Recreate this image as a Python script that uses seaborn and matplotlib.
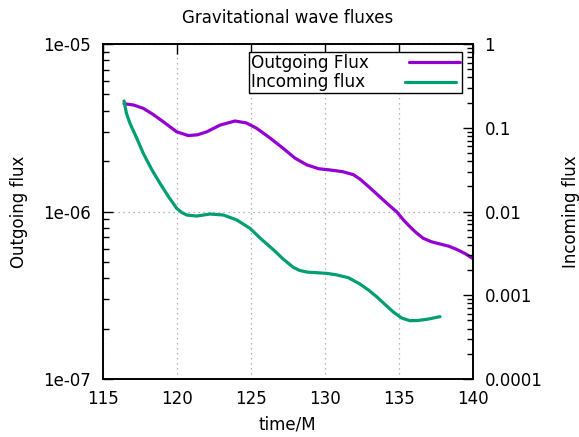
import numpy as np
import pandas as pd
import seaborn as sns
import matplotlib.pyplot as plt
from matplotlib.ticker import LogLocator, NullFormatter

# outgoing flux (left axis)
t_out = [116.44, 117.1, 117.74, 118.4, 119.1, 120.0, 120.78, 121.4, 122.03, 122.93,
         123.94, 124.7, 125.4, 126.3, 127.2, 128.0, 128.78, 129.6, 130.36, 131.2,
         131.93, 132.39, 133.0, 133.74, 134.3, 134.86, 135.3, 135.76, 136.2, 136.66,
         137.2, 137.79, 138.4, 138.92, 139.5, 140.0]
f_out = [4.4e-6, 4.32e-6, 4.13e-6, 3.8e-6, 3.43e-6, 2.99e-6, 2.84e-6, 2.87e-6, 2.99e-6, 3.28e-6,
         3.47e-6, 3.38e-6, 3.14e-6, 2.75e-6, 2.38e-6, 2.08e-6, 1.9e-6, 1.8e-6, 1.77e-6, 1.73e-6,
         1.66e-6, 1.56e-6, 1.4e-6, 1.22e-6, 1.1e-6, 9.97e-7, 8.95e-7, 8.11e-7, 7.45e-7, 6.92e-7,
         6.6e-7, 6.4e-7, 6.2e-7, 5.94e-7, 5.6e-7, 5.25e-7]

# incoming flux (right axis)
t_in = [116.44, 116.6, 116.84, 117.3, 117.74, 118.3, 118.87, 119.45, 120.0, 120.35,
        120.68, 121.35, 122.25, 123.15, 124.05, 124.95, 125.7, 126.53, 127.2, 127.88,
        128.3, 128.8, 129.46, 130.2, 130.81, 131.6, 132.39, 133.0, 133.51, 134.1,
        134.64, 135.2, 135.76, 136.3, 136.89, 137.3, 137.79]
f_in = [0.209, 0.15, 0.113, 0.075, 0.0495, 0.032, 0.0217, 0.015, 0.0109, 0.0097,
        0.00908, 0.00883, 0.00933, 0.00908, 0.00794, 0.0063, 0.0047, 0.0035, 0.0027, 0.00215,
        0.00198, 0.00189, 0.00186, 0.00182, 0.00175, 0.00162, 0.00136, 0.00114, 0.00096, 0.00077,
        0.00063, 0.000535, 0.000497, 0.0005, 0.000516, 0.000533, 0.000555]

purple = "#9400D3"
green = "#009E73"

sns.set_style("white")
plt.rcParams["font.family"] = ["DejaVu Sans"]
plt.rcParams["font.size"] = 12
plt.rcParams["text.color"] = "black"
plt.rcParams["axes.labelcolor"] = "black"
plt.rcParams["xtick.color"] = "black"
plt.rcParams["ytick.color"] = "black"

fig = plt.figure(figsize=(5.79, 4.37), dpi=100)
ax = fig.add_axes([0.1774, 0.1327, 0.639, 0.7666])
ax2 = ax.twinx()

out_df = pd.DataFrame({"t": t_out, "flux": f_out})
in_df = pd.DataFrame({"t": t_in, "flux": f_in})

sns.lineplot(data=out_df, x="t", y="flux", ax=ax, color=purple, lw=2.3,
             label="Outgoing Flux", legend=False)
sns.lineplot(data=in_df, x="t", y="flux", ax=ax2, color=green, lw=2.3,
             label="Incoming flux", legend=False)

ax.set_yscale("log")
ax2.set_yscale("log")
ax.set_xlim(115, 140)
ax.set_ylim(1e-7, 1e-5)
ax2.set_ylim(1e-4, 1)

ax.set_xticks([115, 120, 125, 130, 135, 140])
ax.set_yticks([1e-7, 1e-6, 1e-5])
ax.set_yticklabels(["1e-07", "1e-06", "1e-05"])
ax.yaxis.set_minor_locator(LogLocator(base=10, subs=np.arange(2, 10)))
ax.yaxis.set_minor_formatter(NullFormatter())
ax2.set_yticks([1e-4, 1e-3, 1e-2, 1e-1, 1])
ax2.set_yticklabels(["0.0001", "0.001", "0.01", "0.1", "1"])
ax2.yaxis.set_minor_locator(LogLocator(base=10, subs=np.arange(2, 10)))
ax2.yaxis.set_minor_formatter(NullFormatter())

ax.tick_params(axis="x", direction="in", length=7, width=1, top=True, pad=8, labelsize=12)
ax.tick_params(axis="y", which="major", direction="in", length=7, width=1, pad=8.5, labelsize=12)
ax.tick_params(axis="y", which="minor", direction="in", length=4, width=1)
ax2.tick_params(axis="y", which="major", direction="in", length=7, width=1, pad=8.5, labelsize=12)
ax2.tick_params(axis="y", which="minor", direction="in", length=4, width=1)

ax.grid(True, which="major", color="#a0a0a0", linestyle=(0, (1, 3)), lw=0.9)
ax.grid(False, which="minor")
ax2.grid(False)

for a in (ax, ax2):
    for s in a.spines.values():
        s.set_color("black")
        s.set_linewidth(1.2)

ax.set_xlabel("time/M", labelpad=5)
ax.set_ylabel("Outgoing flux", labelpad=11)
ax2.set_ylabel("Incoming flux", labelpad=14)
ax.set_title("Gravitational wave fluxes", fontsize=12, pad=15)

h1, l1 = ax.get_legend_handles_labels()
h2, l2 = ax2.get_legend_handles_labels()
leg = ax2.legend(h1 + h2, l1 + l2, loc="upper right", bbox_to_anchor=(0.971, 0.977),
                 markerfirst=False, fancybox=False, framealpha=1, edgecolor="black",
                 handlelength=3.0, handletextpad=2.4, borderpad=0.12, labelspacing=0.1,
                 fontsize=12.2, borderaxespad=0)
leg.get_frame().set_linewidth(1.0)
# gnuplot keeps the key text flush left
for col in leg._legend_handle_box.get_children():
    col.align = "left"

fig.savefig("out.png", dpi=100)
